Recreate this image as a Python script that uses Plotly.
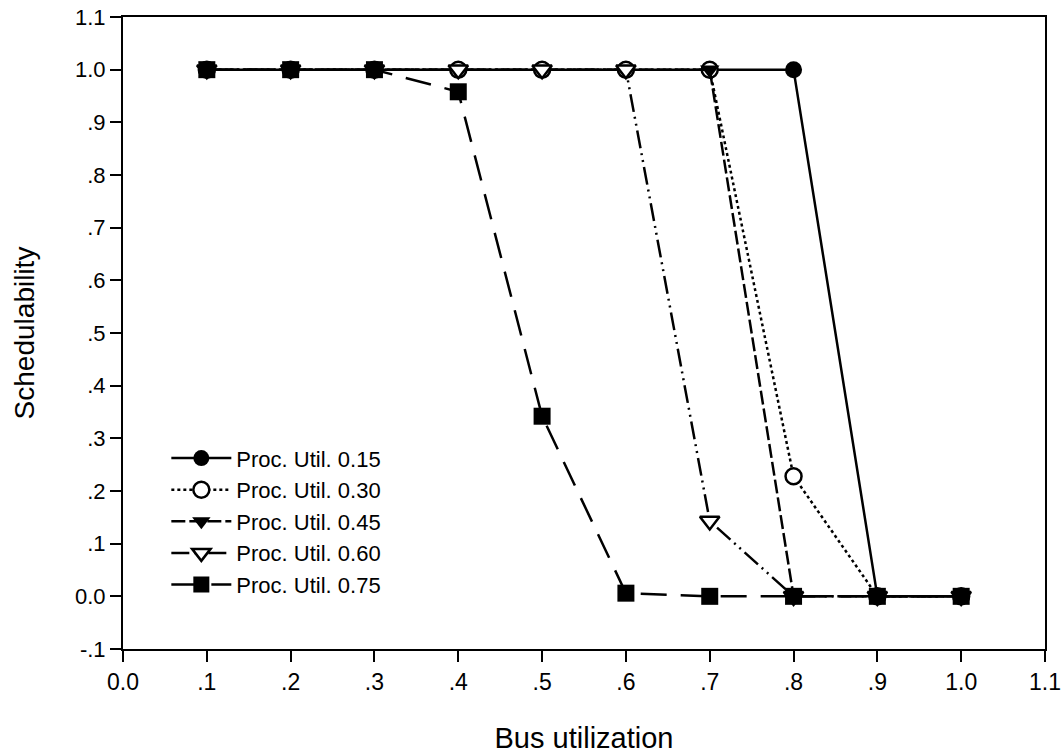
import plotly.graph_objects as go

bus_util = [0.1, 0.2, 0.3, 0.4, 0.5, 0.6, 0.7, 0.8, 0.9, 1.0]
sched_015 = [1.0, 1.0, 1.0, 1.0, 1.0, 1.0, 1.0, 1.0, 0.0, 0.0]
sched_030 = [1.0, 1.0, 1.0, 1.0, 1.0, 1.0, 1.0, 0.228, 0.0, 0.0]
sched_045 = [1.0, 1.0, 1.0, 1.0, 1.0, 1.0, 1.0, 0.0, 0.0, 0.0]
sched_060 = [1.0, 1.0, 1.0, 1.0, 1.0, 1.0, 0.143, 0.0, 0.0, 0.0]
sched_075 = [1.0, 1.0, 1.0, 0.958, 0.342, 0.006, 0.0, 0.0, 0.0, 0.0]
names = ["Proc. Util. 0.15", "Proc. Util. 0.30", "Proc. Util. 0.45",
         "Proc. Util. 0.60", "Proc. Util. 0.75"]

y_tick_vals = [-0.1, 0.0, 0.1, 0.2, 0.3, 0.4, 0.5, 0.6, 0.7, 0.8, 0.9, 1.0, 1.1]
y_tick_text = ["-.1", "0.0", ".1", ".2", ".3", ".4", ".5", ".6", ".7", ".8", ".9", "1.0", "1.1"]
x_tick_vals = [0.0, 0.1, 0.2, 0.3, 0.4, 0.5, 0.6, 0.7, 0.8, 0.9, 1.0, 1.1]
x_tick_text = ["0.0", ".1", ".2", ".3", ".4", ".5", ".6", ".7", ".8", ".9", "1.0", "1.1"]

# (values, dash, symbol, size, fill colour)
series = [
    (sched_015, "solid", "circle", 17, "black"),
    (sched_030, "dot", "circle", 16, "white"),
    (sched_045, "14px,4px", "triangle-down", 17, "black"),
    (sched_060, "18px,5px,2px,5px,2px,5px", "triangle-down", 17, "white"),
    (sched_075, "26px,14px", "square", 17, "black"),
]

fig = go.Figure()
for (ys, dash, sym, size, fill), name in zip(series, names):
    fig.add_trace(go.Scatter(
        x=bus_util, y=ys, name=name, mode="lines+markers",
        line=dict(color="black", width=2.5, dash=dash),
        marker=dict(symbol=sym, size=size, color=fill,
                    line=dict(color="black", width=2.5 if fill == "white" else 0)),
    ))

axis_common = dict(
    showgrid=False, zeroline=False, showline=True, linecolor="black",
    linewidth=2, mirror=True, ticks="outside", ticklen=11, tickwidth=2,
    tickcolor="black", automargin=False, ticklabeloverflow="allow",
)

fig.update_layout(
    width=1062, height=755,
    margin=dict(l=123, r=17, t=17, b=106),
    paper_bgcolor="white", plot_bgcolor="white",
    font=dict(family="Arial", color="black"),
    showlegend=True,
    legend=dict(x=0.047, y=0.335, xanchor="left", yanchor="top",
                font=dict(family="Arial", size=22, color="black"),
                bgcolor="rgba(0,0,0,0)", tracegroupgap=0, itemwidth=60),
    xaxis=dict(range=[0.0, 1.1], tickvals=x_tick_vals, ticktext=x_tick_text,
               tickfont=dict(family="Arial", size=23, color="black"),
               title=dict(text="Bus utilization",
                          font=dict(family="Arial", size=29, color="black"),
                          standoff=34),
               **axis_common),
    yaxis=dict(range=[-0.1, 1.1], tickvals=y_tick_vals, ticktext=y_tick_text,
               tickfont=dict(family="Arial", size=22, color="black"),
               title=dict(text="Schedulability",
                          font=dict(family="Arial", size=28, color="black"),
                          standoff=32),
               **axis_common),
)

# remove the browser's default 8px body margin so the figure fills the window
fig.write_html("out.html", config={"displayModeBar": False},
               post_script="document.body.style.margin='0';")
